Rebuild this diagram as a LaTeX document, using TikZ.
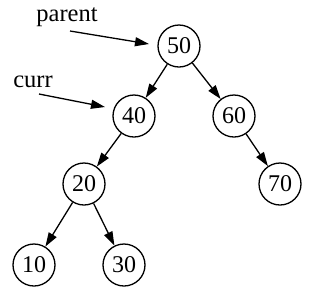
\documentclass[tikz,border=0pt]{standalone}
\usepackage{fontspec}
\setmainfont{Liberation Serif}
\usetikzlibrary{arrows.meta}
\begin{document}
\begin{tikzpicture}[x=1pt,y=-1pt,
  treenode/.style={circle,draw,line width=1.3pt,minimum size=42pt,inner sep=0pt,font=\fontsize{24}{26}\selectfont},
  lbl/.style={font=\fontsize{24.5}{26}\selectfont,inner sep=0pt},
  edge/.style={line width=1.3pt,-{Triangle[length=14pt,width=9pt]}}]
\useasboundingbox (0,0) rectangle (316,301);
\node[treenode] (n50) at (179,46) {50};
\node[treenode] (n40) at (134,116) {40};
\node[treenode] (n60) at (234,116) {60};
\node[treenode] (n20) at (84,184) {20};
\node[treenode] (n70) at (280,184) {70};
\node[treenode] (n10) at (34,265) {10};
\node[treenode] (n30) at (124,265) {30};
\node[lbl] (parent) at (67,17) {parent};
\node[lbl] (curr) at (33,82) {curr};
\coordinate (ps) at (70,31);
\coordinate (pe) at (149,44);
\coordinate (cs) at (39,94);
\coordinate (ce) at (105,107);
\draw[edge] (ps) -- (pe);
\draw[edge] (cs) -- (ce);
\draw[edge] (n50) -- (n40);
\draw[edge] (n50) -- (n60);
\draw[edge] (n40) -- (n20);
\draw[edge] (n60) -- (n70);
\draw[edge] (n20) -- (n10);
\draw[edge] (n20) -- (n30);
\end{tikzpicture}
\end{document}
